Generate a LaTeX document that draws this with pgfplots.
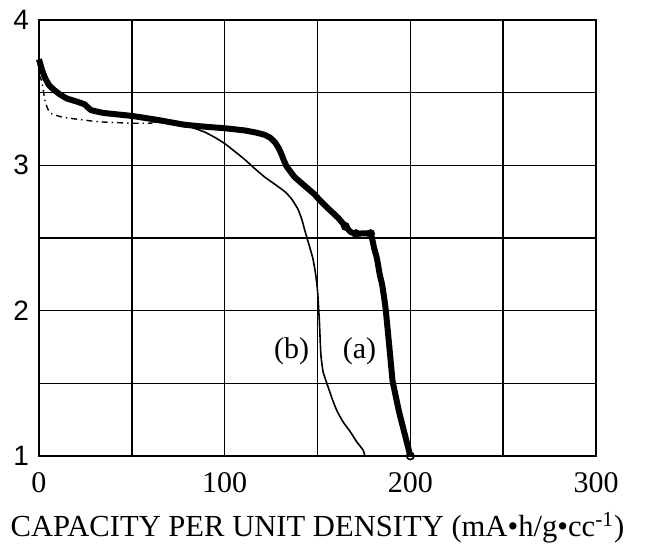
\documentclass[border=0pt]{standalone}
\usepackage{pgfplots}
\pgfplotsset{compat=1.18}
\usepackage{fontspec}
\setmainfont{Liberation Serif}
\newfontfamily\ysans{Liberation Sans}
\pgfplotstableread{
x y
0 3.73
1.5 3.66
3.3 3.60
5.5 3.55
8 3.52
11 3.49
15 3.46
20 3.44
24.5 3.42
28 3.38
35 3.36
50 3.34
65 3.31
78 3.28
90 3.265
100 3.255
110.8 3.24
117 3.225
121.5 3.21
124.5 3.19
127 3.16
129 3.12
130.5 3.08
132 3.03
133.5 2.99
137.6 2.92
143 2.86
148.4 2.80
151.2 2.76
156 2.70
161 2.64
165 2.58
168 2.54
170.7 2.53
178.6 2.53
180.5 2.43
182 2.36
183.5 2.25
184.8 2.18
186 2.08
186.8 2.0
188.7 1.75
190.4 1.52
192 1.42
194 1.30
197 1.15
200 1.0
}\curveA
\pgfplotstableread{
x y
0 3.62
1.5 3.58
3.3 3.44
6 3.36
13.4 3.33
32 3.30
50 3.29
61 3.29
}\curveBdash
\pgfplotstableread{
x y
61 3.30
70 3.29
80 3.27
89 3.23
95 3.19
100 3.15
105 3.10
110.8 3.04
116 2.98
121.5 2.92
127 2.87
132.3 2.82
136 2.77
139.4 2.70
141.5 2.63
143 2.56
145.5 2.45
147.5 2.36
149 2.25
150 2.14
151 1.93
151.8 1.70
153 1.58
155.3 1.49
158 1.39
160.5 1.31
164 1.23
167.5 1.17
171 1.10
174.6 1.04
175.5 1.0
}\curveB
\begin{document}
\begin{tikzpicture}
\begin{axis}[
 scale only axis, width=278.5pt, height=218pt,
 xmin=0, xmax=300, ymin=1, ymax=4,
 xtick={0,100,200,300}, minor xtick={50,150,250},
 ytick={1,2,3,4}, minor ytick={1.5,2.5,3.5},
 grid=both,
 grid style={black, line width=0.7pt},
 major grid style={black, line width=0.7pt},
 minor grid style={black, line width=0.7pt},
 axis line style={line width=0.9pt},
 tick style={draw=none},
 /pgf/number format/assume math mode=true,
 xticklabel style={font=\fontsize{15}{15}\selectfont, yshift=-4.5pt},
 yticklabel style={font=\ysans\fontsize{14}{14}\selectfont, xshift=-1.5pt},
 xlabel={CAPACITY PER UNIT DENSITY (mA•h/g•cc\textsuperscript{-1})},
 xlabel style={font=\fontsize{15.3}{15.3}\selectfont, yshift=-3pt},
 clip=false,
]
\addplot[black, line width=3pt, line join=round, smooth, tension=0.15] table {\curveA};
\addplot[black, line width=1.2pt, densely dotted] coordinates {(0,3.98) (0,3.86)};
\addplot[black, line width=0.7pt, dash dot, smooth, tension=0.3] table {\curveBdash};
\addplot[black, line width=0.8pt, smooth, tension=0.3] table {\curveB};
\addplot[only marks, mark=o, mark size=1.8pt, black, mark options={fill=white, line width=0.8pt}] coordinates {(165,2.58) (170.7,2.53) (178.6,2.53) (200,1.0)};
\node[font=\fontsize{15}{15}\selectfont] at (axis cs:136,1.72) {(b)};
\node[font=\fontsize{15}{15}\selectfont] at (axis cs:172.6,1.72) {(a)};
\end{axis}
\path (current axis.south west) ++(-19.5pt,-42pt) coordinate (bl);
\path (current axis.north east) ++(25.5pt,10pt) coordinate (tr);
\path (bl) rectangle (tr);
\end{tikzpicture}
\end{document}
